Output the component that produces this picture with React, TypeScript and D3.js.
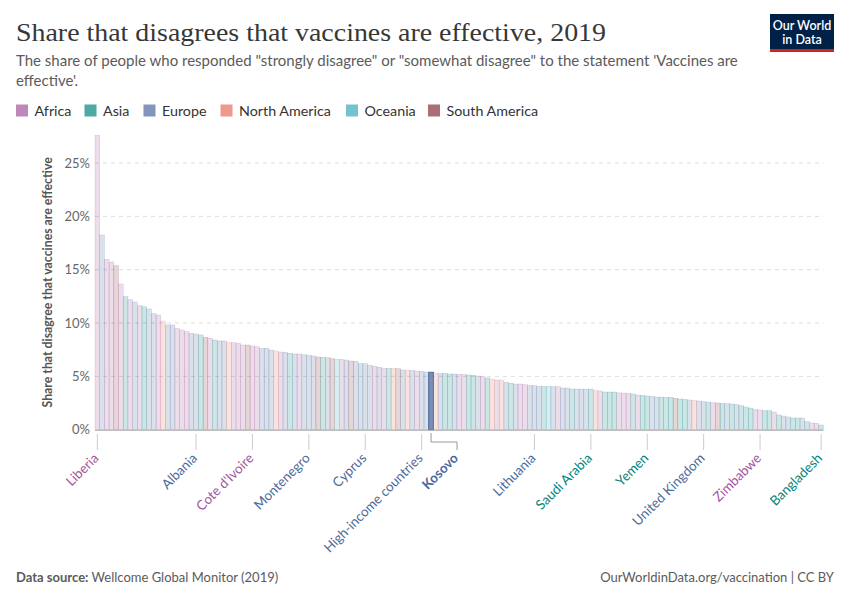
import * as d3 from "d3";

// share (%) that disagrees vaccines are effective, sorted descending
const values = [
  27.6, 18.25, 15.97, 15.72, 15.38, 13.66, 12.47, 12.19, 11.97, 11.63,
  11.53, 11.32, 10.88, 10.75, 10.19, 9.82, 9.82, 9.5, 9.35, 9.19,
  9.04, 8.97, 8.88, 8.66, 8.57, 8.41, 8.32, 8.32, 8.16, 8.16,
  8.1, 7.94, 7.94, 7.85, 7.78, 7.63, 7.63, 7.47, 7.38, 7.28,
  7.25, 7.16, 7.1, 7.1, 7.03, 6.97, 6.91, 6.81, 6.78, 6.75,
  6.66, 6.6, 6.6, 6.53, 6.44, 6.41, 6.19, 6.19, 6.03, 5.95,
  5.85, 5.75, 5.75, 5.75, 5.72, 5.6, 5.56, 5.56, 5.5, 5.47,
  5.41, 5.38, 5.31, 5.28, 5.28, 5.22, 5.22, 5.19, 5.19, 5.13,
  5.1, 5.03, 4.97, 4.85, 4.75, 4.66, 4.66, 4.44, 4.35, 4.28,
  4.28, 4.22, 4.16, 4.13, 4.06, 4.06, 4.06, 4.03, 4.03, 3.91,
  3.91, 3.81, 3.81, 3.81, 3.81, 3.81, 3.69, 3.63, 3.53, 3.53,
  3.53, 3.45, 3.44, 3.41, 3.35, 3.25, 3.22, 3.16, 3.13, 3.06,
  3.06, 3.03, 3.03, 2.94, 2.88, 2.84, 2.78, 2.75, 2.69, 2.63,
  2.59, 2.53, 2.5, 2.47, 2.44, 2.41, 2.35, 2.25, 2.13, 2.03,
  1.91, 1.85, 1.78, 1.78, 1.66, 1.38, 1.28, 1.19, 1.1, 1.1,
  1.1, 0.75, 0.63, 0.6, 0.44,
];

// one letter per bar: A Africa, S Asia, E Europe, N North America, O Oceania, M South America
const regionCodes =
  "AEAAMASAEA" + "SEEANEEAAA" + "EESMASEENA" + "AAMAAEEENA" + "ESEAEEEMSE" +
  "MOAEMEEEEA" + "EASNMENEAE" + "EENESSEAAS" + "SEASNANESE" + "AAEEESOEAE" +
  "ESEEESNASS" + "SAAASASSEE" + "SSSMSSENEE" + "SAMSESESSS" + "AASSASEESS" +
  "ESAAS";

const legendNames = ["Africa", "Asia", "Europe", "North America", "Oceania", "South America"];
const legendCodes = ["A", "S", "E", "N", "O", "M"];

// labelled bars on the x axis: [index, name]
const labelled: [number, string][] = [
  [0, "Liberia"],
  [21, "Albania"],
  [33, "Cote d'Ivoire"],
  [45, "Montenegro"],
  [57, "Cyprus"],
  [69, "High-income countries"],
  [93, "Lithuania"],
  [105, "Saudi Arabia"],
  [117, "Yemen"],
  [129, "United Kingdom"],
  [141, "Zimbabwe"],
  [154, "Bangladesh"],
];
const highlight: [number, string] = [71, "Kosovo"];

const yTicks = [0, 5, 10, 15, 20, 25];

const colors: Record<string, string> = {
  A: "#a2559c",
  S: "#00847e",
  E: "#4c6a9c",
  N: "#e56e5a",
  O: "#38aaba",
  M: "#883039",
};

const font = "Lato, 'Noto Sans', sans-serif";

export default function App() {
  const width = 850;
  const height = 600;
  const left = 95;
  const right = 823.5;
  const bottom = 429.7;

  const idx = values.map((_, i) => i);
  const x = d3.scaleBand<number>().domain(idx).range([left, right]).padding(0);
  const y = d3.scaleLinear().domain([0, 25]).range([bottom, 163]);
  const bw = x.bandwidth();
  const cx = (i: number) => (x(i) ?? 0) + bw / 2;

  const legendX = [16, 84.5, 143.5, 220.5, 346, 428];

  return (
    <svg
      width={width}
      height={height}
      style={{ position: "absolute", left: 0, top: 0, background: "#fff" }}
      fontFamily={font}
    >
      {/* header */}
      <text
        x={16}
        y={41}
        fontFamily="'Liberation Serif', 'DejaVu Serif', serif"
        fontSize={26}
        fill="#373737"
        textLength={590}
        lengthAdjust="spacingAndGlyphs"
      >
        Share that disagrees that vaccines are effective, 2019
      </text>
      <text x={16} y={66} fontSize={15} fill="#5b5b5b">
        The share of people who responded "strongly disagree" or "somewhat disagree" to the statement 'Vaccines are
      </text>
      <text x={16} y={86} fontSize={15} fill="#5b5b5b">
        effective'.
      </text>

      {/* logo */}
      <rect x={770} y={14} width={64} height={38} fill="#002147" />
      <rect x={770} y={49} width={64} height={3} fill="#ce261e" />
      <text x={802} y={30} fontSize={12.5} fill="#fff" textAnchor="middle" fontWeight={600}>
        Our World
      </text>
      <text x={802} y={44} fontSize={12.5} fill="#fff" textAnchor="middle" fontWeight={600}>
        in Data
      </text>

      {/* legend */}
      {legendNames.map((name, i) => (
        <g key={name} transform={`translate(${legendX[i]},104.5)`}>
          <rect width={12} height={12} fill={colors[legendCodes[i]]} fillOpacity={0.7} />
          <text x={18.5} y={11} fontSize={14.3} fill="#333">
            {name}
          </text>
        </g>
      ))}

      {/* grid + y ticks */}
      {yTicks.map((t) => (
        <g key={t}>
          {t > 0 && (
            <line
              x1={left}
              x2={right}
              y1={y(t)}
              y2={y(t)}
              stroke="#ddd"
              strokeDasharray="4,4"
            />
          )}
          <text x={90} y={y(t) + 4.5} fontSize={13} fill="#666" textAnchor="end">
            {t}%
          </text>
        </g>
      ))}

      <text
        transform={`translate(52,${(bottom + 135) / 2}) rotate(-90)`}
        fontSize={12.3}
        fontWeight={700}
        fill="#555"
        textAnchor="middle"
      >
        Share that disagree that vaccines are effective
      </text>

      {/* bars */}
      {values.map((v, i) => {
        const c = colors[regionCodes[i]];
        const hi = i === highlight[0];
        return (
          <rect
            key={i}
            x={x(i)}
            y={y(v)}
            width={bw}
            height={bottom - y(v)}
            fill={c}
            fillOpacity={hi ? 0.75 : 0.2}
            stroke={c}
            strokeOpacity={hi ? 1 : 0.3}
            strokeWidth={hi ? 1 : 0.5}
          />
        );
      })}

      <line x1={left} x2={right} y1={bottom + 0.5} y2={bottom + 0.5} stroke="#a1a1a1" />

      {/* x labels */}
      {labelled.map(([i, name]) => (
        <g key={name}>
          <line x1={cx(i)} x2={cx(i)} y1={434} y2={450} stroke="#ccc" />
          <text
            transform={`translate(${cx(i) + 2},${459}) rotate(-45)`}
            textAnchor="end"
            fontSize={13.4}
            fill={colors[regionCodes[i]]}
          >
            {name}
          </text>
        </g>
      ))}
      {(() => {
        const [i, name] = highlight;
        const hx = cx(i);
        const lx = hx + 26;
        return (
          <g>
            <path
              d={`M${hx},433V442H${lx}V450`}
              fill="none"
              stroke="#999"
            />
            <text
              transform={`translate(${lx + 2},${459}) rotate(-45)`}
              textAnchor="end"
              fontSize={13.4}
              fontWeight={700}
              fill={colors[regionCodes[i]]}
            >
              {name}
            </text>
          </g>
        );
      })()}

      {/* footer */}
      <text x={16} y={582} fontSize={13} fill="#5b5b5b">
        <tspan fontWeight={700}>Data source: </tspan>
        Wellcome Global Monitor (2019)
      </text>
      <text x={834} y={582} fontSize={13} fill="#5b5b5b" textAnchor="end">
        OurWorldinData.org/vaccination | CC BY
      </text>
    </svg>
  );
}
